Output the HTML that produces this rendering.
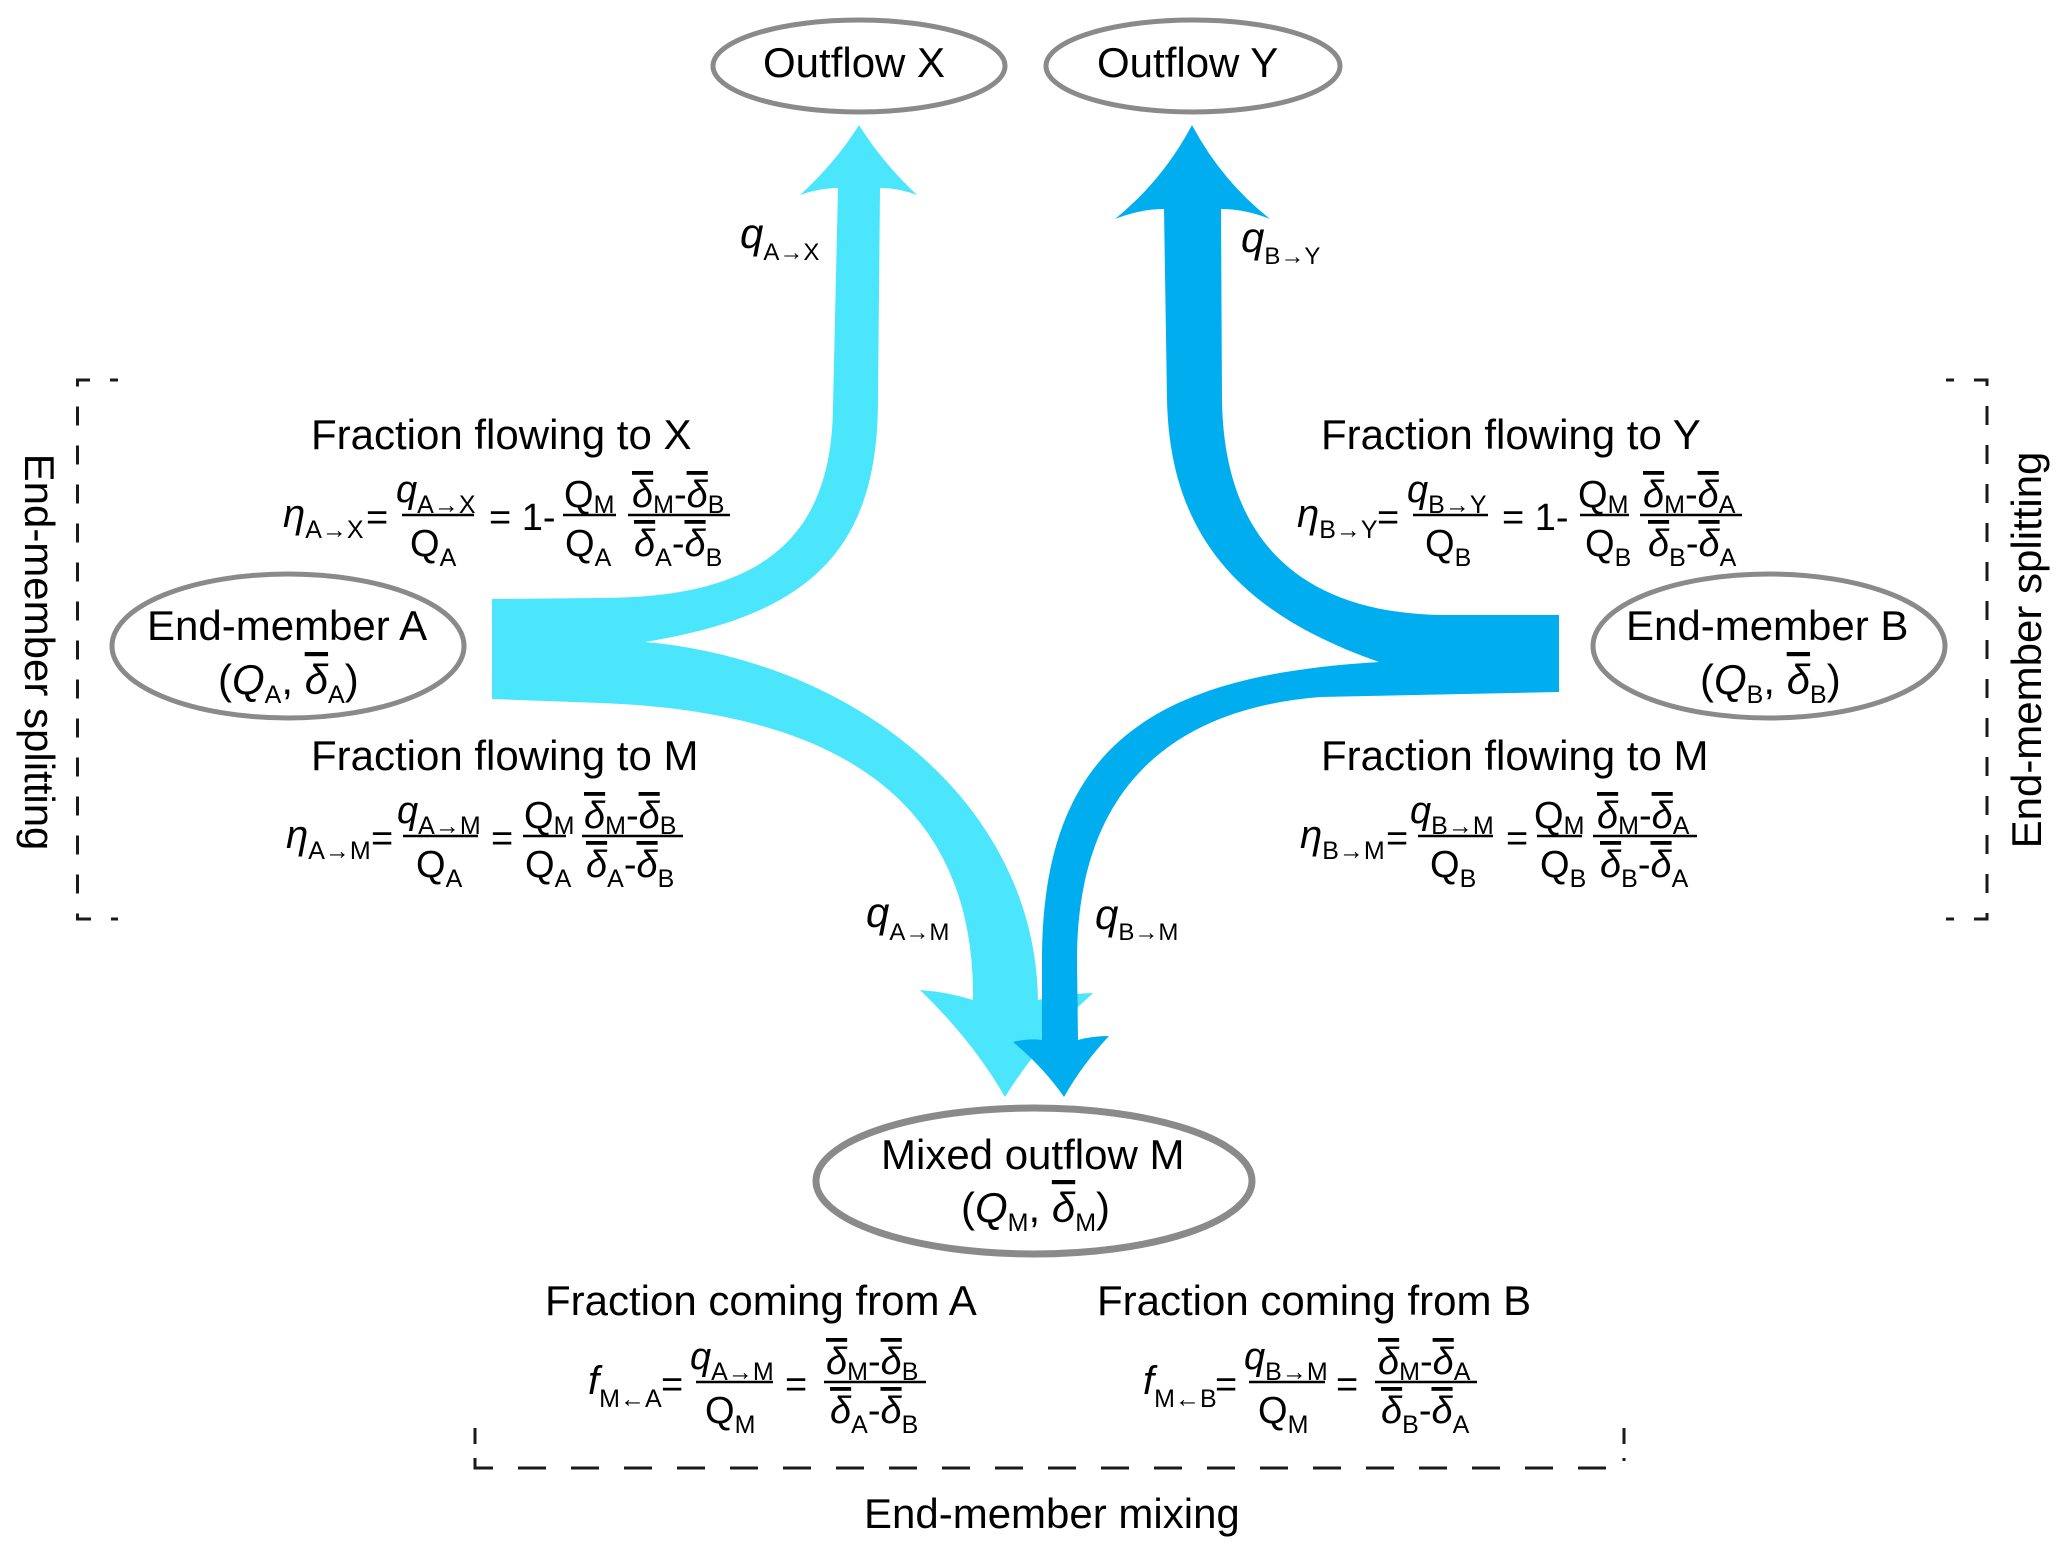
<!DOCTYPE html>
<html>
<head>
<meta charset="utf-8">
<style>
html,body{margin:0;padding:0;background:#fff;}
svg{display:block;}
text{font-family:"Liberation Sans",Arial,sans-serif;fill:#000;}
.L{font-size:42px;}
.m{font-size:38px;}
.s{font-size:25px;}
.e{font-size:38px;}
.q{font-size:42px;}
.qs{font-size:24px;}
.i{font-style:italic;}
.o{text-decoration:overline;text-decoration-thickness:2px;}
</style>
</head>
<body>
<svg width="2067" height="1549" viewBox="0 0 2067 1549" xmlns="http://www.w3.org/2000/svg">
<rect width="2067" height="1549" fill="#fff"/>

<!-- Arrows -->
<path fill="#4BE6FC" d="M492 599 L600 598 C760 598 832 540 833 406 L838 188 Q820 188 800 195 Q836 162 859 125 Q882 162 917 195 Q898 188 880 188 L878 400 C878 550 810 615 645 642 C850 660 1035 800 1038 1000 Q1062 994 1093 993 Q1039 1042 1005 1097 Q972 1040 920 990 Q948 992 973 1000 C975 810 850 712 600 703 L492 699 Z"/>
<path fill="#00AEEF" d="M1559 615 L1440 615 C1300 612 1224 540 1222 400 L1221 209 Q1245 209 1270 219 Q1221 180 1192 125 Q1163 180 1115 219 Q1140 209 1164 209 L1167 400 C1170 540 1245 615 1379 662 C1160 675 1042 740 1042 960 L1042 1040 Q1028 1038 1013 1042 Q1044 1068 1064 1097 Q1082 1065 1109 1036 Q1092 1036 1078 1040 L1077 960 C1077 800 1160 710 1320 697 L1559 692 Z"/>

<!-- Ellipses -->
<g fill="none" stroke="#8a8a8a">
<ellipse cx="859" cy="66" rx="146" ry="46" stroke-width="5"/>
<ellipse cx="1193" cy="66" rx="147" ry="46" stroke-width="5"/>
<ellipse cx="288" cy="646" rx="176" ry="72" stroke-width="5"/>
<ellipse cx="1769" cy="646" rx="176" ry="72" stroke-width="5"/>
<ellipse cx="1034" cy="1181" rx="218" ry="73" stroke-width="7"/>
</g>

<!-- Brackets -->
<g fill="none" stroke="#1a1a1a" stroke-width="3">
<path d="M118 380 H77.5 V919 H118" stroke-dasharray="19 20" stroke-dashoffset="11"/>
<path d="M1946 380 H1987 V919 H1946" stroke-dasharray="19 20" stroke-dashoffset="11"/>
<path d="M475 1428 V1444"/>
<path d="M1624 1428 V1444"/>
<path d="M475 1458 V1468 H1624 V1458" stroke-dasharray="28 25"/>
</g>

<!-- Node labels -->
<text class="L" x="763" y="77">Outflow X</text>
<text class="L" x="1097" y="77">Outflow Y</text>
<text class="L" x="147" y="640">End-member A</text>
<text class="L" x="218" y="694">(<tspan class="i">Q</tspan><tspan class="s" dy="9">A</tspan><tspan dy="-9">, </tspan><tspan class="i o">δ</tspan><tspan class="s" dy="9">A</tspan><tspan dy="-9">)</tspan></text>
<text class="L" x="1626" y="640">End-member B</text>
<text class="L" x="1700" y="694">(<tspan class="i">Q</tspan><tspan class="s" dy="9">B</tspan><tspan dy="-9">, </tspan><tspan class="i o">δ</tspan><tspan class="s" dy="9">B</tspan><tspan dy="-9">)</tspan></text>
<text class="L" x="881" y="1169">Mixed outflow M</text>
<text class="L" x="961" y="1222">(<tspan class="i">Q</tspan><tspan class="s" dy="9">M</tspan><tspan dy="-9">, </tspan><tspan class="i o">δ</tspan><tspan class="s" dy="9">M</tspan><tspan dy="-9">)</tspan></text>

<!-- Flow labels -->
<text x="740" y="248"><tspan class="q i">q</tspan><tspan class="qs" dy="12">A→X</tspan></text>
<text x="1241" y="252"><tspan class="q i">q</tspan><tspan class="qs" dy="12">B→Y</tspan></text>
<text x="866" y="927"><tspan class="q i">q</tspan><tspan class="qs" dy="13">A→M</tspan></text>
<text x="1095" y="929"><tspan class="q i">q</tspan><tspan class="qs" dy="11">B→M</tspan></text>

<!-- Section titles -->
<text class="L" x="311" y="449">Fraction flowing to X</text>
<text class="L" x="1321" y="449">Fraction flowing to Y</text>
<text class="L" x="311" y="770">Fraction flowing to M</text>
<text class="L" x="1321" y="770">Fraction flowing to M</text>
<text class="L" x="545" y="1315">Fraction coming from A</text>
<text class="L" x="1097" y="1315">Fraction coming from B</text>
<text class="L" x="864" y="1528">End-member mixing</text>
<text class="L" text-anchor="middle" transform="translate(25,652) rotate(90)">End-member splitting</text>
<text class="L" text-anchor="middle" transform="translate(2041,650) rotate(-90)">End-member splitting</text>

<!-- Fraction lines -->
<g stroke="#000" stroke-width="2.5">
<line x1="402" y1="515" x2="474" y2="515"/>
<line x1="563" y1="515" x2="616" y2="515"/>
<line x1="628" y1="515" x2="730" y2="515"/>
<line x1="403" y1="836" x2="478" y2="836"/>
<line x1="523" y1="836" x2="566" y2="836"/>
<line x1="582" y1="836" x2="683" y2="836"/>
<line x1="1413" y1="515" x2="1488" y2="515"/>
<line x1="1580" y1="515" x2="1629" y2="515"/>
<line x1="1640" y1="515" x2="1742" y2="515"/>
<line x1="1418" y1="836" x2="1493" y2="836"/>
<line x1="1537" y1="836" x2="1582" y2="836"/>
<line x1="1593" y1="836" x2="1697" y2="836"/>
<line x1="696" y1="1382" x2="773" y2="1382"/>
<line x1="824" y1="1382" x2="926" y2="1382"/>
<line x1="1249" y1="1382" x2="1325" y2="1382"/>
<line x1="1375" y1="1382" x2="1477" y2="1382"/>
</g>

<!-- Equation 1: eta A->X -->
<text x="283" y="527"><tspan class="i" font-size="40">η</tspan><tspan class="s" dy="11">A→X</tspan></text>
<text class="e" x="366" y="530">=</text>
<text x="396" y="502"><tspan class="m i">q</tspan><tspan class="s" dy="11">A→X</tspan></text>
<text class="m" x="410" y="556">Q<tspan class="s" dy="10">A</tspan></text>
<text class="e" x="489" y="530">= 1-</text>
<text class="m" x="564" y="507">Q<tspan class="s" dy="6">M</tspan></text>
<text class="m" x="565" y="556">Q<tspan class="s" dy="10">A</tspan></text>
<text class="m" x="632" y="507"><tspan class="i o">δ</tspan><tspan class="s" dy="6">M</tspan><tspan dy="-6">-</tspan><tspan class="i o">δ</tspan><tspan class="s" dy="6">B</tspan></text>
<text class="m" x="634" y="556"><tspan class="i o">δ</tspan><tspan class="s" dy="10">A</tspan><tspan dy="-10">-</tspan><tspan class="i o">δ</tspan><tspan class="s" dy="10">B</tspan></text>

<!-- Equation 2: eta A->M -->
<text x="286" y="848"><tspan class="i" font-size="40">η</tspan><tspan class="s" dy="11">A→M</tspan></text>
<text class="e" x="371" y="851">=</text>
<text x="397" y="823"><tspan class="m i">q</tspan><tspan class="s" dy="11">A→M</tspan></text>
<text class="m" x="416" y="877">Q<tspan class="s" dy="10">A</tspan></text>
<text class="e" x="491" y="851">=</text>
<text class="m" x="524" y="828">Q<tspan class="s" dy="6">M</tspan></text>
<text class="m" x="525" y="877">Q<tspan class="s" dy="10">A</tspan></text>
<text class="m" x="584" y="828"><tspan class="i o">δ</tspan><tspan class="s" dy="6">M</tspan><tspan dy="-6">-</tspan><tspan class="i o">δ</tspan><tspan class="s" dy="6">B</tspan></text>
<text class="m" x="586" y="877"><tspan class="i o">δ</tspan><tspan class="s" dy="10">A</tspan><tspan dy="-10">-</tspan><tspan class="i o">δ</tspan><tspan class="s" dy="10">B</tspan></text>

<!-- Equation 3: eta B->Y -->
<text x="1297" y="527"><tspan class="i" font-size="40">η</tspan><tspan class="s" dy="11">B→Y</tspan></text>
<text class="e" x="1377" y="530">=</text>
<text x="1407" y="502"><tspan class="m i">q</tspan><tspan class="s" dy="11">B→Y</tspan></text>
<text class="m" x="1425" y="556">Q<tspan class="s" dy="10">B</tspan></text>
<text class="e" x="1502" y="530">= 1-</text>
<text class="m" x="1578" y="507">Q<tspan class="s" dy="6">M</tspan></text>
<text class="m" x="1585" y="556">Q<tspan class="s" dy="10">B</tspan></text>
<text class="m" x="1643" y="507"><tspan class="i o">δ</tspan><tspan class="s" dy="6">M</tspan><tspan dy="-6">-</tspan><tspan class="i o">δ</tspan><tspan class="s" dy="6">A</tspan></text>
<text class="m" x="1648" y="556"><tspan class="i o">δ</tspan><tspan class="s" dy="10">B</tspan><tspan dy="-10">-</tspan><tspan class="i o">δ</tspan><tspan class="s" dy="10">A</tspan></text>

<!-- Equation 4: eta B->M -->
<text x="1300" y="848"><tspan class="i" font-size="40">η</tspan><tspan class="s" dy="11">B→M</tspan></text>
<text class="e" x="1386" y="851">=</text>
<text x="1410" y="823"><tspan class="m i">q</tspan><tspan class="s" dy="11">B→M</tspan></text>
<text class="m" x="1430" y="877">Q<tspan class="s" dy="10">B</tspan></text>
<text class="e" x="1506" y="851">=</text>
<text class="m" x="1534" y="828">Q<tspan class="s" dy="6">M</tspan></text>
<text class="m" x="1540" y="877">Q<tspan class="s" dy="10">B</tspan></text>
<text class="m" x="1597" y="828"><tspan class="i o">δ</tspan><tspan class="s" dy="6">M</tspan><tspan dy="-6">-</tspan><tspan class="i o">δ</tspan><tspan class="s" dy="6">A</tspan></text>
<text class="m" x="1600" y="877"><tspan class="i o">δ</tspan><tspan class="s" dy="10">B</tspan><tspan dy="-10">-</tspan><tspan class="i o">δ</tspan><tspan class="s" dy="10">A</tspan></text>

<!-- Equation 5: f M<-A -->
<text x="588" y="1394"><tspan class="i" font-size="40">f</tspan><tspan class="s" dy="13">M←A</tspan></text>
<text class="e" x="661" y="1397">=</text>
<text x="690" y="1369"><tspan class="m i">q</tspan><tspan class="s" dy="11">A→M</tspan></text>
<text class="m" x="705" y="1423">Q<tspan class="s" dy="10">M</tspan></text>
<text class="e" x="785" y="1397">=</text>
<text class="m" x="826" y="1374"><tspan class="i o">δ</tspan><tspan class="s" dy="6">M</tspan><tspan dy="-6">-</tspan><tspan class="i o">δ</tspan><tspan class="s" dy="6">B</tspan></text>
<text class="m" x="830" y="1423"><tspan class="i o">δ</tspan><tspan class="s" dy="10">A</tspan><tspan dy="-10">-</tspan><tspan class="i o">δ</tspan><tspan class="s" dy="10">B</tspan></text>

<!-- Equation 6: f M<-B -->
<text x="1143" y="1394"><tspan class="i" font-size="40">f</tspan><tspan class="s" dy="13">M←B</tspan></text>
<text class="e" x="1215" y="1397">=</text>
<text x="1244" y="1369"><tspan class="m i">q</tspan><tspan class="s" dy="11">B→M</tspan></text>
<text class="m" x="1258" y="1423">Q<tspan class="s" dy="10">M</tspan></text>
<text class="e" x="1336" y="1397">=</text>
<text class="m" x="1378" y="1374"><tspan class="i o">δ</tspan><tspan class="s" dy="6">M</tspan><tspan dy="-6">-</tspan><tspan class="i o">δ</tspan><tspan class="s" dy="6">A</tspan></text>
<text class="m" x="1381" y="1423"><tspan class="i o">δ</tspan><tspan class="s" dy="10">B</tspan><tspan dy="-10">-</tspan><tspan class="i o">δ</tspan><tspan class="s" dy="10">A</tspan></text>

</svg>
</body>
</html>
